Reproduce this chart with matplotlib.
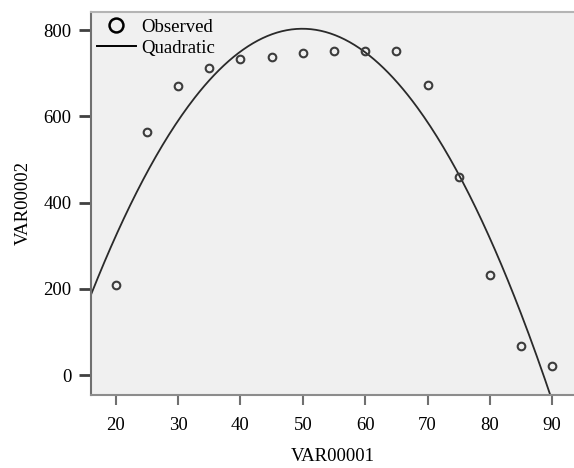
import numpy as np
import matplotlib
matplotlib.use("Agg")
import matplotlib.pyplot as plt
from matplotlib.lines import Line2D

var1 = [20, 25, 30, 35, 40, 45, 50, 55, 60, 65, 70, 75, 80, 85, 90]
var2 = [209, 564, 670, 713, 733, 738, 747, 751, 751, 751, 672, 460, 233, 68, 22]
x_ticks = [20, 30, 40, 50, 60, 70, 80, 90]
y_ticks = [0, 200, 400, 600, 800]

plt.rcParams['font.family'] = ['Liberation Serif', 'DejaVu Serif']
plt.rcParams['font.size'] = 13.5

fig = plt.figure(figsize=(5.74, 4.68), dpi=100)
ax = fig.add_axes([0.1594, 0.157, 0.8406, 0.8174])
ax.set_facecolor('#f0f0f0')

# quadratic fit, same as the curve-estimation output
coef = np.polyfit(var1, var2, 2)
xs = np.linspace(16.1, 93.5, 300)
ax.plot(xs, np.polyval(coef, xs), color='#2a2a2a', lw=1.3)
ax.plot(var1, var2, 'o', ms=5.5, mfc='none', mec='#3c3c3c', mew=1.5)

ax.set_xlim(16.1, 93.5)
ax.set_ylim(-45, 842)
ax.set_xticks(x_ticks)
ax.set_yticks(y_ticks)
ax.set_xlabel('VAR00001', labelpad=10)
ax.set_ylabel('VAR00002', labelpad=8)

ax.spines['right'].set_visible(False)
ax.spines['top'].set_color('#b4b4b4')
ax.spines['top'].set_linewidth(1.5)
ax.spines['left'].set_color('#707070')
ax.spines['left'].set_linewidth(1.5)
ax.spines['bottom'].set_color('#8c8c8c')
ax.spines['bottom'].set_linewidth(1.5)
ax.tick_params(axis='y', length=8.5, width=2, color='#404040', pad=6)
ax.tick_params(axis='x', length=7.5, width=1.5, color='#707070', pad=9)

handles = [Line2D([], [], ls='none', marker='o', ms=10, mfc='none', mec='black', mew=1.8),
           Line2D([], [], color='black', lw=1.4)]
ax.legend(handles, ['Observed', 'Quadratic'], loc='upper left',
          bbox_to_anchor=(0.0104, 0.982), frameon=False, borderpad=0,
          borderaxespad=0, handlelength=2.13, handletextpad=0.27, labelspacing=0.2)

fig.savefig('out.png', dpi=100)
